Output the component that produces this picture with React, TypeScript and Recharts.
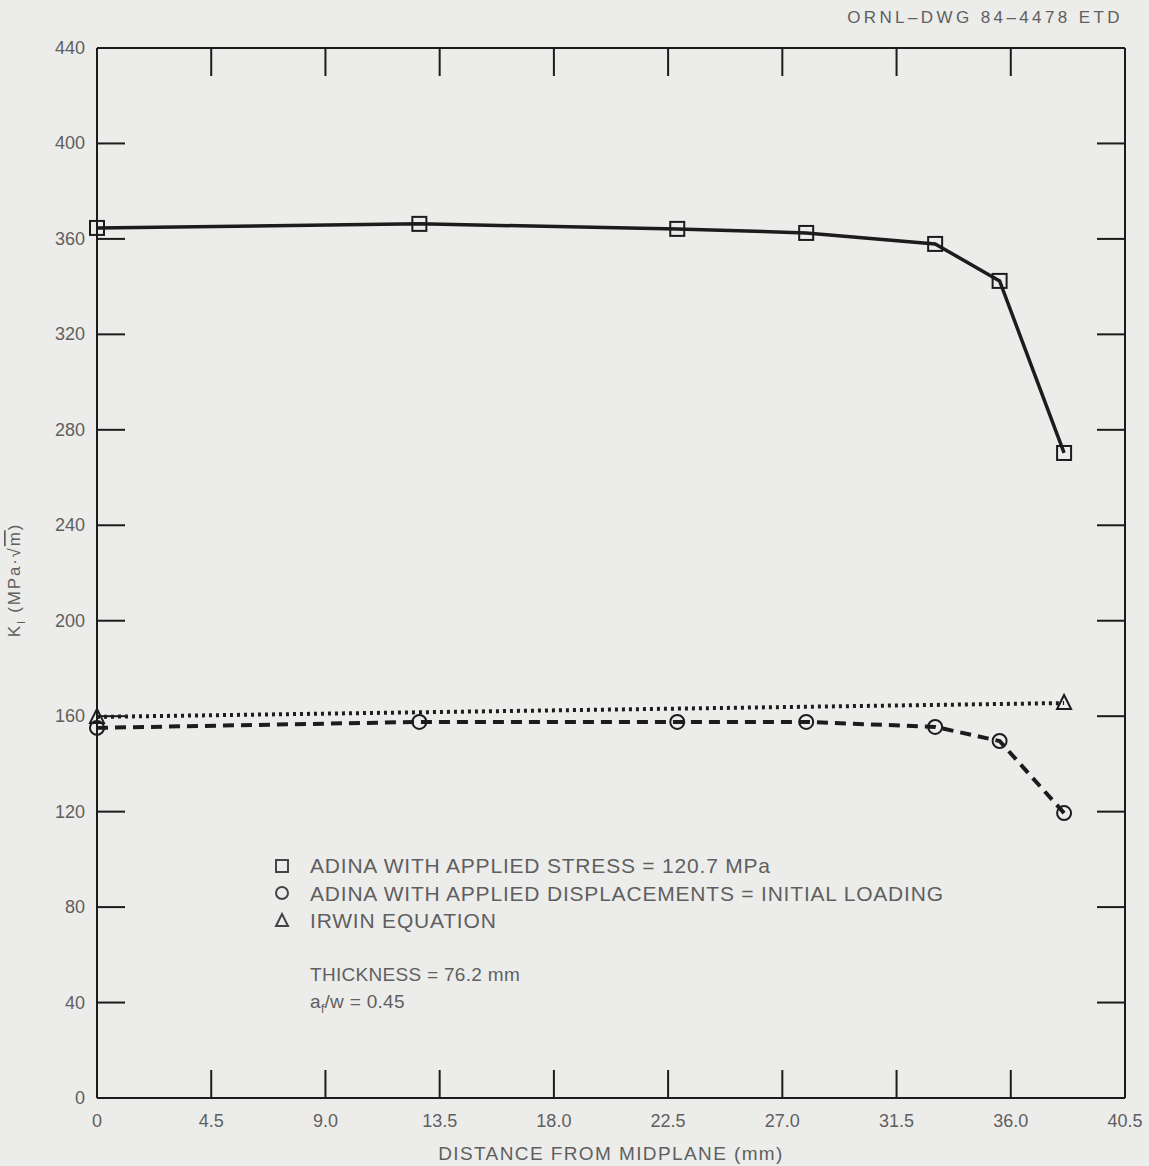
import {
  LineChart,
  Line,
  XAxis,
  YAxis,
  Legend,
} from "recharts";

const xTicks = [0, 4.5, 9.0, 13.5, 18.0, 22.5, 27.0, 31.5, 36.0, 40.5];
const yTicks = [0, 40, 80, 120, 160, 200, 240, 280, 320, 360, 400, 440];

const positions = [0, 12.7, 22.86, 27.94, 33.02, 35.56, 38.1];
const stressK = [364.6, 366.3, 364.2, 362.5, 357.9, 342.4, 270.3];
const displacementK = [155.1, 157.6, 157.6, 157.6, 155.5, 149.6, 119.4];
const irwinX = [0, 38.1];
const irwinK = [159.7, 165.5];

const stressData = positions.map((x, i) => ({ x, k: stressK[i] }));
const displacementData = positions.map((x, i) => ({ x, k: displacementK[i] }));
const irwinData = irwinX.map((x, i) => ({ x, k: irwinK[i] }));

const FONT = '"Liberation Sans Narrow", "Arial Narrow", "Liberation Sans", sans-serif';
const INK = "#1c1c1c";
const TEXT = "#5f5f5f";
const BG = "#ececea";
const TICK_LEN = 28;

const fmtX = (v: number) => (v === 0 ? "0" : v.toFixed(1));

const BottomTick = (props: any) => {
  const { x, y, payload } = props;
  const v = payload.value;
  const edge = v === 0 || v === 40.5;
  return (
    <g>
      {!edge && <line x1={x} x2={x} y1={y} y2={y - TICK_LEN} stroke={INK} strokeWidth={2} />}
      <text x={x} y={y + 29} textAnchor="middle" fill={TEXT} fontSize={18} fontFamily={FONT}>
        {fmtX(v)}
      </text>
    </g>
  );
};

const TopTick = (props: any) => {
  const { x, y, payload } = props;
  const v = payload.value;
  if (v === 0 || v === 40.5) return <g />;
  return <line x1={x} x2={x} y1={y} y2={y + TICK_LEN} stroke={INK} strokeWidth={2} />;
};

const LeftTick = (props: any) => {
  const { x, y, payload } = props;
  const v = payload.value;
  const edge = v === 0 || v === 440;
  return (
    <g>
      {!edge && <line x1={x} x2={x + TICK_LEN} y1={y} y2={y} stroke={INK} strokeWidth={2} />}
      <text x={x - 12} y={y + 6} textAnchor="end" fill={TEXT} fontSize={18} fontFamily={FONT}>
        {v}
      </text>
    </g>
  );
};

const RightTick = (props: any) => {
  const { x, y, payload } = props;
  const v = payload.value;
  if (v === 0 || v === 440) return <g />;
  return <line x1={x} x2={x - TICK_LEN} y1={y} y2={y} stroke={INK} strokeWidth={2} />;
};

const SquareDot = (props: any) => {
  const { cx, cy, index } = props;
  if (cx == null || cy == null) return <g key={`s${index}`} />;
  return (
    <rect key={`s${index}`} x={cx - 7} y={cy - 7} width={14} height={14} fill="none" stroke={INK} strokeWidth={2} />
  );
};

const CircleDot = (props: any) => {
  const { cx, cy, index } = props;
  if (cx == null || cy == null) return <g key={`c${index}`} />;
  return <circle key={`c${index}`} cx={cx} cy={cy} r={7} fill="none" stroke={INK} strokeWidth={2} />;
};

const TriangleDot = (props: any) => {
  const { cx, cy, index } = props;
  if (cx == null || cy == null) return <g key={`t${index}`} />;
  const p = `${cx},${cy - 8} ${cx - 7},${cy + 6} ${cx + 7},${cy + 6}`;
  return <polygon key={`t${index}`} points={p} fill="none" stroke={INK} strokeWidth={2} />;
};

const legendItems = [
  { mark: "square", label: "ADINA WITH APPLIED STRESS = 120.7 MPa" },
  { mark: "circle", label: "ADINA WITH APPLIED DISPLACEMENTS = INITIAL LOADING" },
  { mark: "triangle", label: "IRWIN EQUATION" },
];

const LegendContent = () => (
  <div style={{ fontFamily: FONT, color: TEXT, fontSize: 21, lineHeight: "27.5px", letterSpacing: 0.8 }}>
    {legendItems.map((it) => (
      <div key={it.label} style={{ display: "flex", alignItems: "center" }}>
        <svg width={40} height={20}>
          {it.mark === "square" && (
            <rect x={6} y={4} width={12} height={12} fill="none" stroke="#444" strokeWidth={2} />
          )}
          {it.mark === "circle" && <circle cx={12} cy={10} r={6} fill="none" stroke="#444" strokeWidth={2} />}
          {it.mark === "triangle" && (
            <polygon points="12,3 6,15 18,15" fill="none" stroke="#444" strokeWidth={2} />
          )}
        </svg>
        <span>{it.label}</span>
      </div>
    ))}
    <div style={{ paddingLeft: 40, marginTop: 26, fontSize: 19, letterSpacing: 0.3 }}>THICKNESS = 76.2 mm</div>
    <div style={{ paddingLeft: 40, fontSize: 19, letterSpacing: 0.3 }}>
      a<sub style={{ fontSize: 12 }}>f</sub>/w = 0.45
    </div>
  </div>
);

export default function App() {
  return (
    <div style={{ position: "absolute", left: 0, top: 0, width: 1149, height: 1166, background: BG }}>
      <div
        style={{
          position: "absolute",
          right: 26,
          top: 8,
          fontFamily: FONT,
          fontSize: 17,
          color: TEXT,
          letterSpacing: 3.4,
        }}
      >
        ORNL–DWG 84–4478 ETD
      </div>
      <LineChart
        width={1149}
        height={1166}
        margin={{ top: 47, right: 23, bottom: 0, left: 0 }}
      >
        <XAxis
          xAxisId="bottom"
          type="number"
          dataKey="x"
          domain={[0, 40.5]}
          ticks={xTicks}
          interval={0}
          height={68}
          tickSize={0}
          tickMargin={0}
          tickLine={false}
          axisLine={{ stroke: INK, strokeWidth: 2 }}
          tick={BottomTick}
          label={{
            value: "DISTANCE FROM MIDPLANE (mm)",
            position: "insideBottom",
            offset: 6,
            fill: TEXT,
            fontSize: 19,
            letterSpacing: 1.4,
            fontFamily: FONT,
          }}
        />
        <XAxis
          xAxisId="top"
          orientation="top"
          type="number"
          dataKey="x"
          domain={[0, 40.5]}
          ticks={xTicks}
          interval={0}
          height={1}
          tickSize={0}
          tickMargin={0}
          tickLine={false}
          axisLine={{ stroke: INK, strokeWidth: 2 }}
          tick={TopTick}
        />
        <YAxis
          yAxisId="left"
          type="number"
          domain={[0, 440]}
          ticks={yTicks}
          interval={0}
          width={97}
          tickSize={0}
          tickMargin={0}
          tickLine={false}
          axisLine={{ stroke: INK, strokeWidth: 2 }}
          tick={LeftTick}
          label={
            (() => {
              const cx = 20;
              const cy = 580;
              return (
                <text
                  x={cx}
                  y={cy}
                  transform={`rotate(-90 ${cx} ${cy})`}
                  textAnchor="middle"
                  fill={TEXT}
                  fontSize={17}
                  letterSpacing={1.8}
                  fontFamily={FONT}
                >
                  K<tspan dy={5} fontSize={11}>I</tspan>
                  <tspan dy={-5}> (MPa·√</tspan>
                  <tspan textDecoration="overline">m</tspan>
                  <tspan>)</tspan>
                </text>
              );
            }) as any
          }
        />
        <YAxis
          yAxisId="right"
          orientation="right"
          type="number"
          domain={[0, 440]}
          ticks={yTicks}
          interval={0}
          width={1}
          tickSize={0}
          tickMargin={0}
          tickLine={false}
          axisLine={{ stroke: INK, strokeWidth: 2 }}
          tick={RightTick}
        />
        <Legend
          layout="vertical"
          align="center"
          verticalAlign="middle"
          content={<LegendContent />}
          wrapperStyle={{ left: 270, top: 852, width: 800 }}
        />
        <Line
          xAxisId="top"
          yAxisId="right"
          data={irwinData}
          dataKey="k"
          legendType="none"
          stroke="none"
          dot={false}
          activeDot={false}
          isAnimationActive={false}
        />
        <Line
          xAxisId="bottom"
          yAxisId="left"
          data={irwinData}
          dataKey="k"
          name="IRWIN EQUATION"
          stroke={INK}
          strokeWidth={4}
          strokeDasharray="3 4"
          dot={TriangleDot}
          isAnimationActive={false}
        />
        <Line
          xAxisId="bottom"
          yAxisId="left"
          data={displacementData}
          dataKey="k"
          name="ADINA WITH APPLIED DISPLACEMENTS"
          stroke={INK}
          strokeWidth={4}
          strokeDasharray="11 7"
          dot={CircleDot}
          isAnimationActive={false}
        />
        <Line
          xAxisId="bottom"
          yAxisId="left"
          data={stressData}
          dataKey="k"
          name="ADINA WITH APPLIED STRESS"
          stroke={INK}
          strokeWidth={3.5}
          dot={SquareDot}
          isAnimationActive={false}
        />
      </LineChart>
    </div>
  );
}
